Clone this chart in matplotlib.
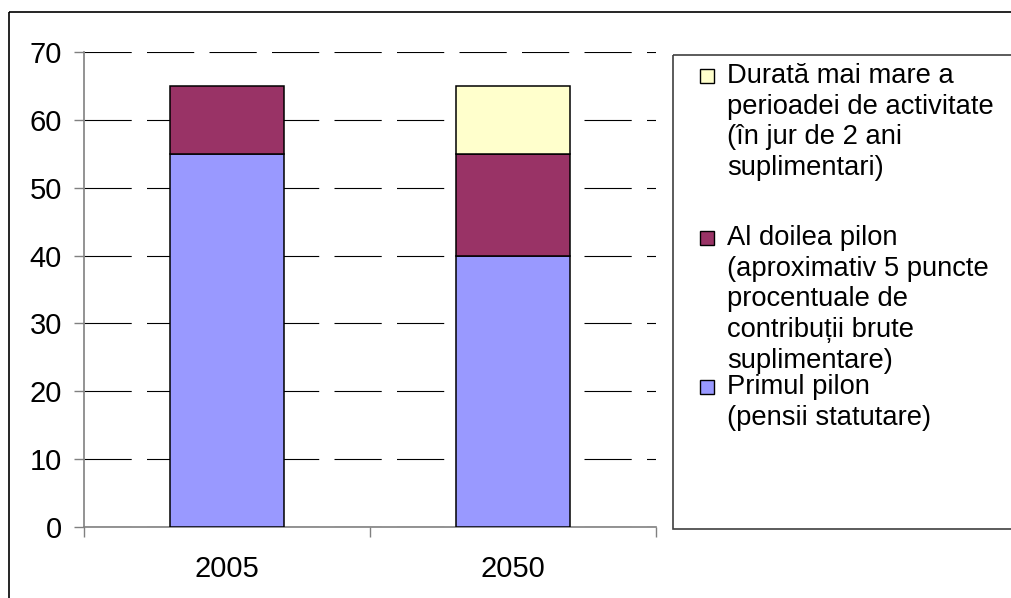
"""Stacked bar chart: pension pillars 2005 vs 2050."""

import numpy as np
import matplotlib
matplotlib.use("Agg")
import matplotlib.pyplot as plt
from matplotlib.patches import Rectangle

plt.rcParams["font.family"] = ["Liberation Sans", "DejaVu Sans"]
plt.rcParams["lines.scale_dashes"] = False

years = ["2005", "2050"]
primul_pilon = [55, 40]
al_doilea_pilon = [10, 15]
durata_mai_mare = [0, 10]

series_labels = [
    "Durată mai mare a\nperioadei de activitate\n(în jur de 2 ani\nsuplimentari)",
    "Al doilea pilon\n(aproximativ 5 puncte\nprocentuale de\ncontribuții brute\nsuplimentare)",
    "Primul pilon\n(pensii statutare)",
]
series_colors = ["#FFFFCC", "#993366", "#9999FF"]

W, H = 1012, 598
fig = plt.figure(figsize=(W / 100, H / 100), dpi=100)

# main axes, placed in pixel terms
left, right, top, bottom = 84, 656, 52, 527
ax = fig.add_axes([left / W, (H - bottom) / H, (right - left) / W, (bottom - top) / H])

x = np.arange(len(years))
base = np.zeros(len(years))
for vals, color in zip([primul_pilon, al_doilea_pilon, durata_mai_mare], series_colors[::-1]):
    vals = np.array(vals, dtype=float)
    mask = vals > 0
    ax.bar(x[mask], vals[mask], bottom=base[mask], width=0.4, color=color,
           edgecolor="black", linewidth=1.1, zorder=3)
    base += vals

ax.set_xlim(-0.5, len(years) - 0.5)
ax.set_ylim(0, 70)
ax.set_yticks(np.arange(0, 71, 10))
ax.set_xticks(x)
ax.set_xticklabels(years)
ax.set_xticks(np.arange(-0.5, len(years), 1.0), minor=True)

ax.yaxis.grid(True, color="black", linewidth=0.8, dashes=(34, 11), zorder=0)
ax.set_axisbelow(True)

for s in ["top", "right"]:
    ax.spines[s].set_visible(False)
for s in ["left", "bottom"]:
    ax.spines[s].set_color("#808080")
    ax.spines[s].set_linewidth(1.2)

ax.tick_params(axis="y", length=7, width=1, color="#808080", labelsize=21, pad=9)
ax.tick_params(axis="x", which="major", length=0, labelsize=21, pad=20)
ax.tick_params(axis="x", which="minor", length=7, width=1, color="#808080")

# overlay in pixel coordinates for frame and legend
ov = fig.add_axes([0, 0, 1, 1], zorder=5)
ov.set_xlim(0, W)
ov.set_ylim(H, 0)
ov.axis("off")
ov.patch.set_alpha(0)

ov.add_patch(Rectangle((9, 12), W + 10, H + 10, fill=False, edgecolor="black", linewidth=1.2))
ov.add_patch(Rectangle((673, 55), W, 529 - 55, fill=False, edgecolor="#404040", linewidth=1.2))

entry_y = [76, 238, 387]
line_h = 30.7
for label, color, y0 in zip(series_labels, series_colors, entry_y):
    ov.add_patch(Rectangle((700, y0 - 7), 14, 14, facecolor=color, edgecolor="black", linewidth=1.0))
    for i, line in enumerate(label.split("\n")):
        ov.text(727, y0 + i * line_h, line, fontsize=19.7, va="center", ha="left")

fig.savefig("out.png", dpi=100)
